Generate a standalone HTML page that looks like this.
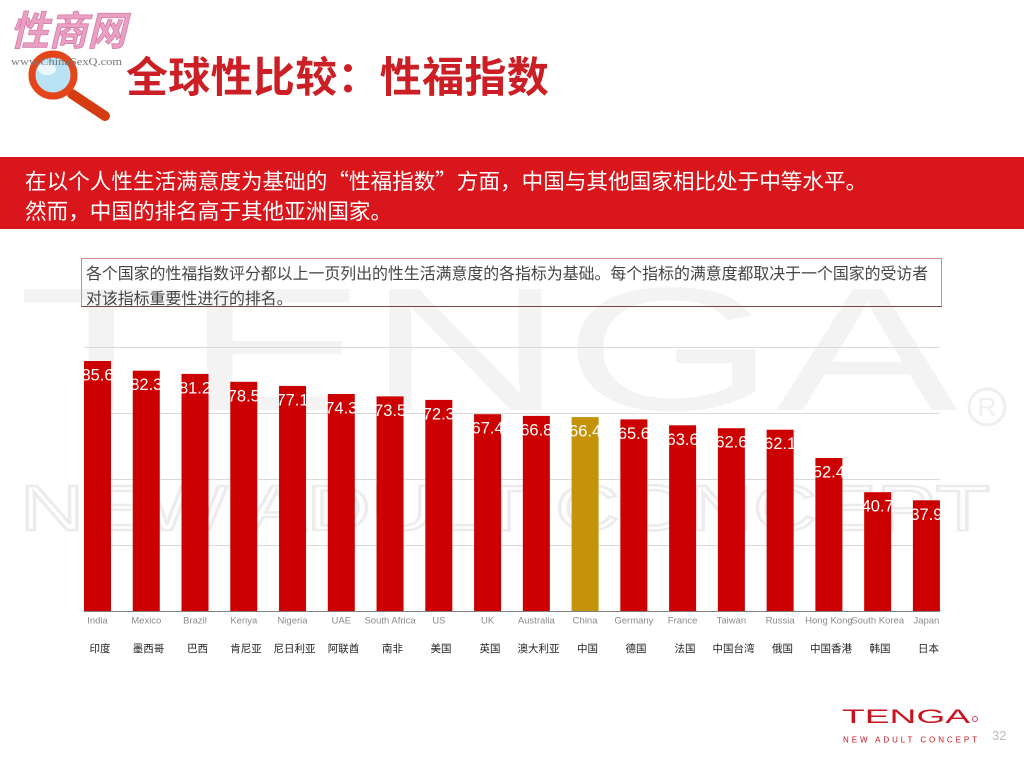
<!DOCTYPE html>
<html><head><meta charset="utf-8">
<style>
html,body{margin:0;padding:0;background:#fff;}
body{width:1024px;height:768px;position:relative;overflow:hidden;font-family:"Liberation Sans","Noto Sans CJK SC",sans-serif;}
.abs{position:absolute;}
#banner{left:0;top:157px;width:1024px;height:72px;background:#d8161b;}
.bt{position:absolute;left:25px;color:#fff;font-family:"Noto Sans CJK SC","WenQuanYi Zen Hei",sans-serif;font-size:21.6px;line-height:30px;white-space:nowrap;}
#box{left:81px;top:258px;width:861px;height:49px;border:1px solid #d88a8a;border-bottom-color:#7a4545;box-sizing:border-box;}
.xt{position:absolute;left:86px;color:#444;font-family:"Noto Sans CJK SC","WenQuanYi Zen Hei",sans-serif;font-size:15.9px;line-height:25px;white-space:nowrap;}
#title{left:126px;top:50px;color:#cc1f25;font-family:"Noto Sans CJK SC","WenQuanYi Zen Hei",sans-serif;font-weight:bold;font-size:42px;line-height:50px;white-space:nowrap;letter-spacing:0.3px;}
</style></head>
<body>
<svg class="abs" style="left:0;top:0" width="1024" height="768" viewBox="0 0 1024 768">
  <!-- watermark -->
  <text x="18" y="410" font-family="Liberation Sans, sans-serif" font-size="176" fill="#f3f3f3" textLength="940" lengthAdjust="spacingAndGlyphs">TENGA</text>
  <circle cx="987" cy="407" r="18" fill="none" stroke="#efefef" stroke-width="3"/>
  <text x="987" y="416" text-anchor="middle" font-family="Liberation Sans, sans-serif" font-size="26" fill="#efefef">R</text>
  <text x="20" y="530" font-family="Liberation Sans, sans-serif" font-size="64" fill="none" stroke="#ececec" stroke-width="2.5" textLength="970" lengthAdjust="spacingAndGlyphs">NEW ADULT CONCEPT</text>

  <!-- top-left logo -->
  <text x="10" y="45" font-family="Noto Sans CJK SC, sans-serif" font-weight="bold" font-style="italic" font-size="40" fill="#eaa0c4" stroke="#d57aa6" stroke-width="0.8" textLength="116" lengthAdjust="spacingAndGlyphs">性商网</text>
  <!-- magnifier -->
  <line x1="72" y1="94" x2="105" y2="116" stroke="#d63c12" stroke-width="10" stroke-linecap="round"/>
  <circle cx="53" cy="75" r="21" fill="#b9e2f4" stroke="#e4461c" stroke-width="7"/>
  <ellipse cx="47" cy="69" rx="9" ry="6" fill="#ffffff" opacity="0.75"/>
  <text x="11" y="65" font-family="Liberation Serif, serif" font-size="10.5" fill="#777" textLength="111" lengthAdjust="spacingAndGlyphs">www.ChinaSexQ.com</text>

  <!-- gridlines -->
  <g stroke="#d9d9d9" stroke-width="1">
    <line x1="84" y1="347.5" x2="940" y2="347.5"/>
    <line x1="84" y1="413.5" x2="940" y2="413.5"/>
    <line x1="84" y1="479.5" x2="940" y2="479.5"/>
    <line x1="84" y1="545.5" x2="940" y2="545.5"/>
  </g>

  <!-- bars -->
  <g fill="#cc0000">
    <rect x="84.00" y="361.0" width="27" height="250.0"/>
    <rect x="132.76" y="370.7" width="27" height="240.3"/>
    <rect x="181.52" y="373.9" width="27" height="237.1"/>
    <rect x="230.28" y="381.8" width="27" height="229.2"/>
    <rect x="279.04" y="385.9" width="27" height="225.1"/>
    <rect x="327.80" y="394.0" width="27" height="217.0"/>
    <rect x="376.56" y="396.4" width="27" height="214.6"/>
    <rect x="425.32" y="399.9" width="27" height="211.1"/>
    <rect x="474.08" y="414.2" width="27" height="196.8"/>
    <rect x="522.84" y="415.9" width="27" height="195.1"/>
    <rect x="571.60" y="417.1" width="27" height="193.9" fill="#c4930a"/>
    <rect x="620.36" y="419.4" width="27" height="191.6"/>
    <rect x="669.12" y="425.3" width="27" height="185.7"/>
    <rect x="717.88" y="428.2" width="27" height="182.8"/>
    <rect x="766.64" y="429.7" width="27" height="181.3"/>
    <rect x="815.40" y="458.0" width="27" height="153.0"/>
    <rect x="864.16" y="492.2" width="27" height="118.8"/>
    <rect x="912.92" y="500.3" width="27" height="110.7"/>
  </g>

  <!-- value labels -->
  <g fill="#ffffff" font-family="Liberation Sans, sans-serif" font-size="16.5" text-anchor="middle">
    <text x="97.5" y="380.5">85.6</text>
    <text x="146.3" y="390.2">82.3</text>
    <text x="195.0" y="393.4">81.2</text>
    <text x="243.8" y="401.3">78.5</text>
    <text x="292.5" y="405.4">77.1</text>
    <text x="341.3" y="413.5">74.3</text>
    <text x="390.1" y="415.9">73.5</text>
    <text x="438.8" y="419.4">72.3</text>
    <text x="487.6" y="433.7">67.4</text>
    <text x="536.3" y="435.4">66.8</text>
    <text x="585.1" y="436.6">66.4</text>
    <text x="633.9" y="438.9">65.6</text>
    <text x="682.6" y="444.8">63.6</text>
    <text x="731.4" y="447.7">62.6</text>
    <text x="780.1" y="449.2">62.1</text>
    <text x="828.9" y="477.5">52.4</text>
    <text x="877.7" y="511.7">40.7</text>
    <text x="926.4" y="519.8">37.9</text>
  </g>

  <!-- axis -->
  <line x1="84" y1="611.5" x2="940" y2="611.5" stroke="#808080" stroke-width="1"/>

  <!-- english labels -->
  <g fill="#8a8a8a" font-family="Liberation Sans, sans-serif" font-size="9.5" text-anchor="middle">
    <text x="97.5" y="623.5">India</text>
    <text x="146.3" y="623.5">Mexico</text>
    <text x="195.0" y="623.5">Brazil</text>
    <text x="243.8" y="623.5">Kenya</text>
    <text x="292.5" y="623.5">Nigeria</text>
    <text x="341.3" y="623.5">UAE</text>
    <text x="390.1" y="623.5">South Africa</text>
    <text x="438.8" y="623.5">US</text>
    <text x="487.6" y="623.5">UK</text>
    <text x="536.3" y="623.5">Australia</text>
    <text x="585.1" y="623.5">China</text>
    <text x="633.9" y="623.5">Germany</text>
    <text x="682.6" y="623.5">France</text>
    <text x="731.4" y="623.5">Taiwan</text>
    <text x="780.1" y="623.5">Russia</text>
    <text x="828.9" y="623.5">Hong Kong</text>
    <text x="877.7" y="623.5">South Korea</text>
    <text x="926.4" y="623.5">Japan</text>
  </g>

  <!-- chinese labels -->
  <g fill="#222" font-family="Noto Sans CJK SC, WenQuanYi Zen Hei, sans-serif" font-size="10.5" text-anchor="middle">
    <text x="100" y="652">印度</text>
    <text x="148.5" y="652">墨西哥</text>
    <text x="197.5" y="652">巴西</text>
    <text x="246" y="652">肯尼亚</text>
    <text x="294.5" y="652">尼日利亚</text>
    <text x="343.5" y="652">阿联酋</text>
    <text x="392.5" y="652">南非</text>
    <text x="441" y="652">美国</text>
    <text x="490" y="652">英国</text>
    <text x="538.5" y="652">澳大利亚</text>
    <text x="587.5" y="652">中国</text>
    <text x="636" y="652">德国</text>
    <text x="685" y="652">法国</text>
    <text x="733.5" y="652">中国台湾</text>
    <text x="782.5" y="652">俄国</text>
    <text x="831" y="652">中国香港</text>
    <text x="880" y="652">韩国</text>
    <text x="928.5" y="652">日本</text>
  </g>

  <!-- bottom-right logo -->
  <text x="842" y="723" font-family="Liberation Sans, sans-serif" font-size="19" fill="#c8141e" textLength="128" lengthAdjust="spacingAndGlyphs">TENGA</text>
  <circle cx="975" cy="719" r="2.5" fill="none" stroke="#c8141e" stroke-width="0.8"/>
  <text x="843" y="742.5" font-family="Liberation Sans, sans-serif" font-size="8" fill="#c8141e" textLength="134" lengthAdjust="spacing">NEW ADULT CONCEPT</text>
  <text x="992" y="740" font-family="Liberation Sans, sans-serif" font-size="13" fill="#bcbcbc">32</text>
</svg>

<div id="title" class="abs">全球性比较：性福指数</div>

<div id="banner" class="abs">
  <div class="bt" style="top:9px;">在以个人性生活满意度为基础的“性福指数”方面，中国与其他国家相比处于中等水平。</div>
  <div class="bt" style="top:39px;">然而，中国的排名高于其他亚洲国家。</div>
</div>

<div id="box" class="abs"></div>
<div class="xt" style="top:260px;">各个国家的性福指数评分都以上一页列出的性生活满意度的各指标为基础。每个指标的满意度都取决于一个国家的受访者</div>
<div class="xt" style="top:285px;">对该指标重要性进行的排名。</div>
</body></html>
